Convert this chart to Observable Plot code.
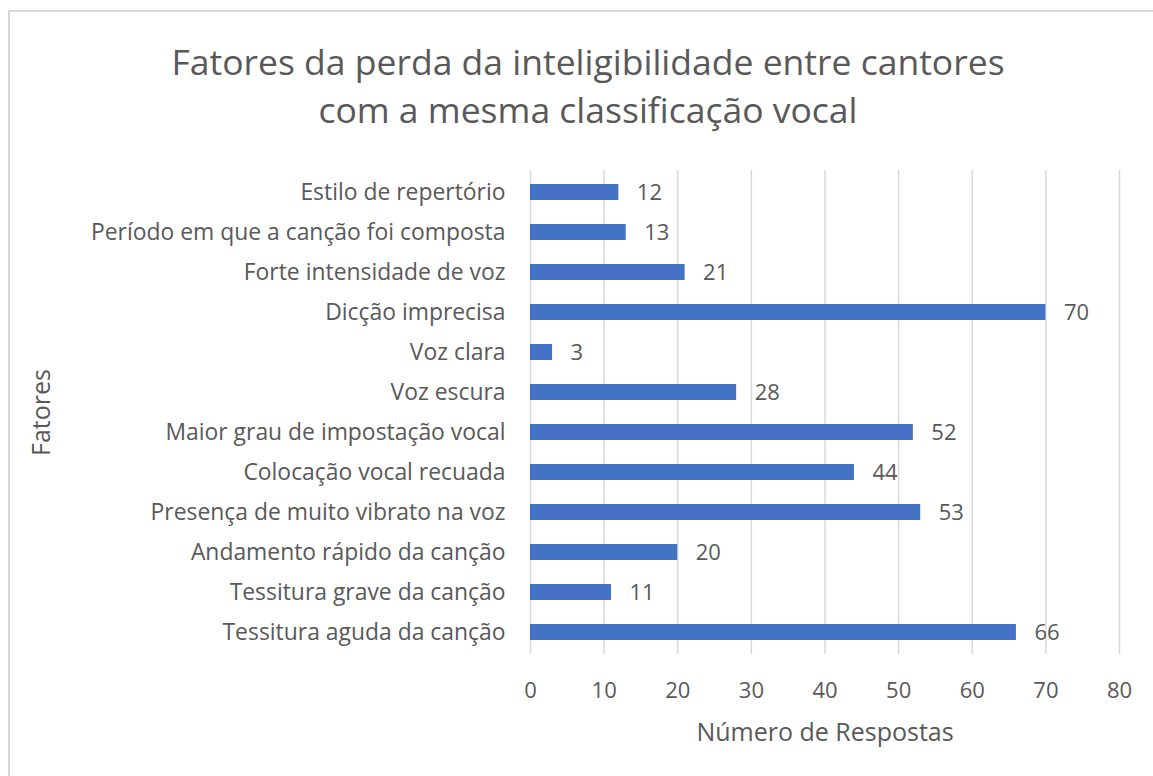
<!DOCTYPE html>
<html><head><meta charset="utf-8">
<script src="https://cdn.jsdelivr.net/npm/d3@7"></script>
<script src="https://cdn.jsdelivr.net/npm/@observablehq/plot@0.6"></script>
<style>
html,body{margin:0;padding:0;background:#fff;}
#wrap{position:relative;width:1153px;height:776px;overflow:hidden;font-family:"Open Sans",sans-serif;}
#frame{position:absolute;left:8px;top:10px;width:1150px;height:780px;border:2px solid #d9d9d9;box-sizing:border-box;}
#title{position:absolute;left:0;width:1176px;top:37px;text-align:center;color:#595959;font-size:35.5px;line-height:48px;font-weight:400;}
#chart{position:absolute;left:0;top:0;}
</style></head>
<body><div id="wrap"><div id="frame"></div><div id="title">Fatores da perda da inteligibilidade entre cantores<br>com a mesma classificação vocal</div><div id="chart"></div></div>
<script>
const categories = [
  "Estilo de repertório",
  "Período em que a canção foi composta",
  "Forte intensidade de voz",
  "Dicção imprecisa",
  "Voz clara",
  "Voz escura",
  "Maior grau de impostação vocal",
  "Colocação vocal recuada",
  "Presença de muito vibrato na voz",
  "Andamento rápido da canção",
  "Tessitura grave da canção",
  "Tessitura aguda da canção"
];
const values = [12, 13, 21, 70, 3, 28, 52, 44, 53, 20, 11, 66];
const xTicks = [0, 10, 20, 30, 40, 50, 60, 70, 80];
const data = categories.map((c, i) => ({factor: c, n: values[i]}));

const gray = "#595959";
const fs = 22;
const chart = Plot.plot({
  width: 1153,
  height: 776,
  marginLeft: 530,
  marginRight: 34,
  marginTop: 170,
  marginBottom: 122,
  style: {fontFamily: "Open Sans, sans-serif", fontSize: "25px", color: gray, background: "transparent"},
  x: {domain: [0, 80], ticks: xTicks},
  y: {domain: categories, paddingInner: 0.6, paddingOuter: 0.3},
  marks: [
    Plot.gridX(xTicks, {stroke: "#d9d9d9", strokeOpacity: 1, strokeWidth: 1.5}),
    Plot.barX(data, {x: "n", y: "factor", fill: "#4472C4"}),
    Plot.text(data, {x: "n", y: "factor", text: d => String(d.n), textAnchor: "start", dx: 18, fill: gray, fontSize: fs}),
    Plot.axisX(xTicks, {tickSize: 0, tickPadding: 28, fontSize: fs, fill: gray, label: null}),
    Plot.axisX({tickSize: 0, ticks: [], label: "Número de Respostas", labelAnchor: "center", labelArrow: "none", labelOffset: 86, fill: gray}),
    Plot.axisY({tickSize: 0, tickPadding: 25, fontSize: 22.9, fill: gray, label: null}),
    Plot.axisY({tickSize: 0, ticks: [], label: "Fatores", labelAnchor: "center", labelArrow: "none", labelOffset: 498, fill: gray})
  ]
});
document.getElementById("chart").appendChild(chart);
</script></body></html>
